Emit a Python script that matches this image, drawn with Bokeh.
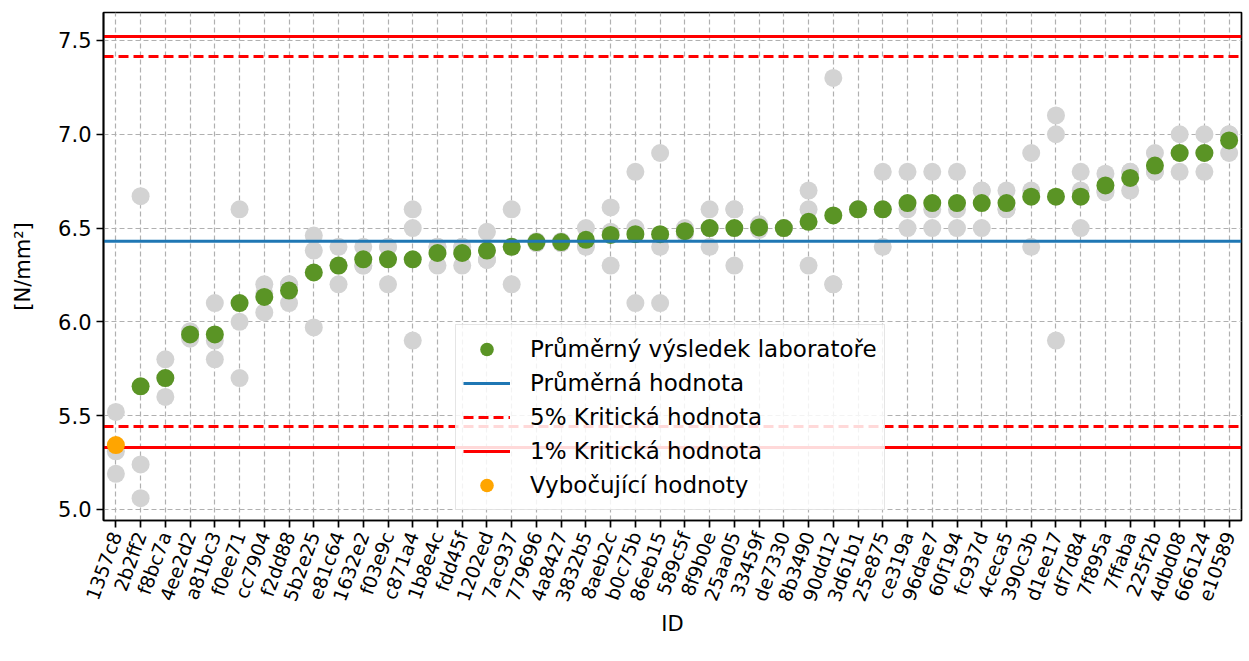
import math
from bokeh.plotting import figure
from bokeh.models import Range1d, FactorRange, Legend, LegendItem, FixedTicker, PrintfTickFormatter
from bokeh.embed import file_html
from bokeh.resources import INLINE

ids = ["1357c8", "2b2ff2", "f8bc7a", "4ee2d2", "a81bc3", "f0ee71", "cc7904", "f2dd88",
       "5b2e25", "e81c64", "1632e2", "f03e9c", "c871a4", "1b8e4c", "fdd45f", "1202ed",
       "7ac937", "779696", "4a8427", "3832b5", "8aeb2c", "b0c75b", "86eb15", "589c5f",
       "8f9b0e", "25aa05", "33459f", "de7330", "8b3490", "90dd12", "3d61b1", "25e875",
       "ce319a", "96dae7", "60f194", "fc937d", "4ceca5", "390c3b", "d1ee17", "df7d84",
       "7f895a", "7ffaba", "225f2b", "4dbd08", "666124", "e10589"]

rep1 = [5.52, 6.67, 5.80, 5.95, 6.10, 6.60, 6.20, 6.20, 6.46, 6.40, 6.40, 6.40, 6.60, 6.40, 6.40, 6.48,
        6.60, 6.43, 6.43, 6.50, 6.61, 6.80, 6.90, 6.50, 6.60, 6.60, 6.52, 6.50, 6.70, 7.30, 6.60, 6.80,
        6.80, 6.80, 6.80, 6.70, 6.70, 6.90, 7.10, 6.80, 6.79, 6.80, 6.90, 7.00, 7.00, 7.00]
rep2 = [5.31, 5.24, 5.70, 5.93, 5.90, 6.00, 6.15, 6.20, 6.38, 6.30, 6.30, 6.40, 6.50, 6.40, 6.40, 6.33,
        6.40, 6.42, 6.42, 6.41, 6.48, 6.50, 6.40, 6.48, 6.50, 6.60, 6.50, 6.50, 6.60, 6.20, 6.60, 6.60,
        6.60, 6.60, 6.60, 6.70, 6.60, 6.70, 7.00, 6.70, 6.70, 6.80, 6.80, 6.90, 6.90, 7.00]
rep3 = [5.19, 5.06, 5.60, 5.91, 5.80, 5.70, 6.05, 6.10, 5.97, 6.20, 6.30, 6.20, 5.90, 6.30, 6.30, 6.33,
        6.20, 6.42, 6.42, 6.40, 6.30, 6.10, 6.10, 6.47, 6.40, 6.30, 6.49, 6.50, 6.30, 6.20, 6.60, 6.40,
        6.50, 6.50, 6.50, 6.50, 6.60, 6.40, 5.90, 6.50, 6.69, 6.70, 6.80, 6.80, 6.80, 6.90]

lab_ids = ids[1:]
lab_mean = [5.656, 5.700, 5.933, 5.933, 6.100, 6.133, 6.167, 6.263, 6.300, 6.333, 6.333, 6.333,
            6.367, 6.367, 6.380, 6.400, 6.425, 6.425, 6.437, 6.463, 6.467, 6.467, 6.483, 6.500,
            6.500, 6.503, 6.500, 6.533, 6.567, 6.600, 6.600, 6.633, 6.633, 6.633, 6.633, 6.633,
            6.667, 6.667, 6.667, 6.727, 6.767, 6.833, 6.900, 6.900, 6.967]

outlier_ids = ["1357c8"]
outlier_mean = [5.343]

mean_value = 6.430
crit5 = [5.442, 7.415]
crit1 = [5.330, 7.521]

FONT = "DejaVu Sans"
GREEN = "#5a9425"

p = figure(width=1245, height=657,
           x_range=FactorRange(factors=ids, range_padding=0),
           y_range=Range1d(4.941, 7.649),
           output_backend="svg", toolbar_location=None,
           min_border_left=103, min_border_right=4, min_border_top=12, min_border_bottom=137)

# replicate results
for rep in (rep1, rep2, rep3):
    p.scatter(x=ids, y=rep, size=18, color="#d3d3d3", line_color=None)

r_green = p.scatter(x=lab_ids, y=lab_mean, size=18, color=GREEN, line_color=None)

x_edges = [(ids[0], -0.5), (ids[-1], 0.5)]
r_mean = p.line(x=x_edges, y=[mean_value, mean_value], line_color="#1f77b4", line_width=3)
r_c5 = None
for v in crit5:
    r_c5 = p.line(x=x_edges, y=[v, v], line_color="red", line_width=3, line_dash="10 5")
r_c1 = None
for v in crit1:
    r_c1 = p.line(x=x_edges, y=[v, v], line_color="red", line_width=3)

r_out = p.scatter(x=outlier_ids, y=outlier_mean, size=18, color="orange", line_color=None)

legend = Legend(items=[
    LegendItem(label="Průměrný výsledek laboratoře", renderers=[r_green]),
    LegendItem(label="Průměrná hodnota", renderers=[r_mean]),
    LegendItem(label="5% Kritická hodnota", renderers=[r_c5]),
    LegendItem(label="1% Kritická hodnota", renderers=[r_c1]),
    LegendItem(label="Vybočující hodnoty", renderers=[r_out]),
], location=(352, 10))
legend.label_text_font = FONT
legend.label_text_font_size = "23px"
legend.label_text_color = "black"
legend.glyph_width = 47
legend.glyph_height = 34
legend.label_height = 34
legend.spacing = 0
legend.padding = 7
legend.margin = 0
legend.label_standoff = 20
legend.border_line_color = "#cccccc"
legend.border_line_width = 1.5
legend.background_fill_alpha = 0.85
p.add_layout(legend, "center")

# axes
p.yaxis.ticker = FixedTicker(ticks=[5.0, 5.5, 6.0, 6.5, 7.0, 7.5])
p.yaxis.formatter = PrintfTickFormatter(format="%.1f")
p.yaxis.axis_label = "[N/mm²]"
p.xaxis.axis_label = "ID"
p.xaxis.major_label_orientation = math.radians(70)

for ax in (p.xaxis, p.yaxis):
    ax.axis_label_text_font = FONT
    ax.axis_label_text_font_size = "21px"
    ax.axis_label_text_font_style = "normal"
    ax.axis_label_text_color = "black"
    ax.major_label_text_font = FONT
    ax.major_label_text_font_size = "21px"
    ax.major_label_text_color = "black"
    ax.axis_line_color = "black"
    ax.axis_line_width = 1.7
    ax.major_tick_line_color = "black"
    ax.major_tick_line_width = 1.7
    ax.major_tick_out = 7
    ax.major_tick_in = 0
    ax.minor_tick_line_color = None
p.xaxis.major_label_text_font_size = "19px"
p.xaxis.major_label_standoff = 5
p.yaxis.axis_label_standoff = 20
p.xaxis.axis_label_standoff = 1

p.xgrid.grid_line_color = "#b0b0b0"
p.ygrid.grid_line_color = "#b0b0b0"
p.xgrid.grid_line_dash = "5 3"
p.ygrid.grid_line_dash = "5 3"
p.xgrid.grid_line_width = 1.2
p.ygrid.grid_line_width = 1.2

p.outline_line_color = "black"
p.outline_line_width = 1.7
p.outline_line_alpha = 1
p.background_fill_color = "white"
p.border_fill_color = "white"

open("out.html", "w").write(file_html(p, INLINE))
